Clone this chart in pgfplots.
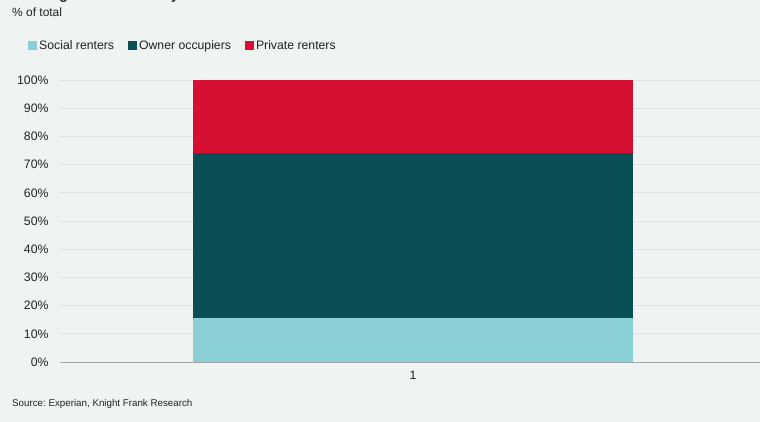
\documentclass[border=0pt]{standalone}
\usepackage{pgfplots}
\pgfplotsset{compat=1.18}
\usepackage{fontspec}
\setmainfont{Liberation Sans}
\frenchspacing
\definecolor{bgcol}{HTML}{EFF3F2}
\definecolor{social}{HTML}{8ACFD6}
\definecolor{owner}{HTML}{0A4F55}
\definecolor{private}{HTML}{D51033}
\definecolor{gridc}{HTML}{DFE4E3}
\definecolor{axc}{HTML}{A3A8A7}
\definecolor{txt}{HTML}{222222}
\begin{document}
\begin{tikzpicture}
\clip (0bp,0bp) rectangle (760bp,422bp);
\fill[bgcol] (0bp,0bp) rectangle (760bp,422bp);
\node[anchor=base west, inner sep=0, font=\bfseries\fontsize{14}{16}\selectfont, text=txt] at (12bp,422bp) {Housing market share by tenure};
\node[anchor=base west, inner sep=0, font=\fontsize{12}{14}\selectfont, text=txt] at (12bp,405bp) {\% of total};
\node[anchor=base west, inner sep=0, font=\fontsize{9.8}{11}\selectfont, text=txt] at (12bp,16bp) {Source: Experian, Knight Frank Research};
\begin{axis}[
  at={(60bp,60bp)}, anchor=south west,
  scale only axis, width=700bp, height=282bp,
  xmin=0, xmax=2, ymin=0, ymax=100,
  ybar stacked, bar width=1.257,
  xtick={1.0086}, xticklabels={1},
  ytick={0,10,...,100},
  yticklabel={\pgfmathprintnumber{\tick}\%},
  /pgf/number format/assume math mode=true,
  tick label style={font=\fontsize{12.3}{14}\selectfont, text=txt},
  yticklabel style={xshift=-8bp},
  xticklabel style={yshift=-6bp},
  major tick length=0pt,
  ymajorgrids, grid style={gridc, line width=0.8pt},
  axis x line*=bottom, axis y line*=left,
  x axis line style={axc, line width=0.8pt, -},
  y axis line style={draw=none},
  clip=false,
  legend columns=3,
  legend style={at={(-32bp,316bp)}, anchor=west, draw=none, fill=none,
    font=\fontsize{12.3}{14}\selectfont, text=txt, inner sep=0pt,
    /tikz/every even column/.append style={column sep=12bp}},
  legend image code/.code={\fill[#1] (1bp,-4.5bp) rectangle (10bp,4.5bp);},
  legend cell align=left,
]
\addplot[fill=social, draw=none] coordinates {(1.0086,15.5)};
\addplot[fill=owner, draw=none] coordinates {(1.0086,58.5)};
\addplot[fill=private, draw=none] coordinates {(1.0086,26.0)};
\legend{Social renters, Owner occupiers, Private renters}
\end{axis}
\end{tikzpicture}
\end{document}
